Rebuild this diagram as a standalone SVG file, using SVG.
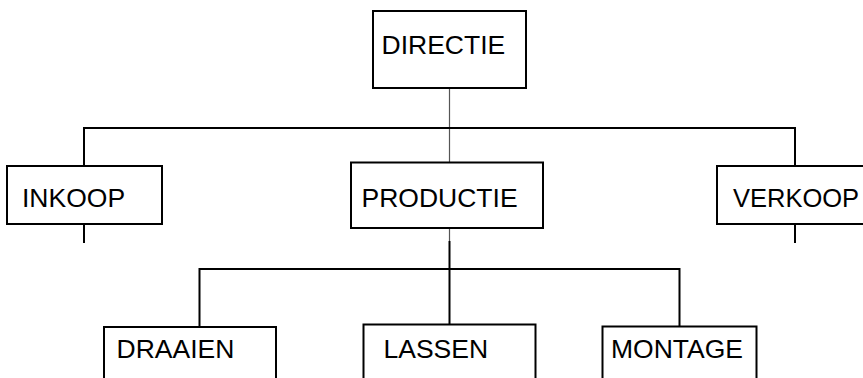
<svg xmlns="http://www.w3.org/2000/svg" width="863" height="378" viewBox="0 0 863 378">
<style>
.box{fill:#fff;stroke:#000;stroke-width:2}
.lbl{font-family:"Liberation Sans",Arial,sans-serif;font-size:26.5px;fill:#000}
.ln{stroke:#000;stroke-width:2;fill:none}
.thin{stroke:#555;stroke-width:1.2;fill:none}
</style>
<rect width="863" height="378" fill="#fff"/>
<g id="connectors">
<line class="thin" x1="449.5" y1="88" x2="449.5" y2="162"/>
<polyline class="ln" points="84,166 84,128 795,128 795,166"/>
<line class="ln" x1="84" y1="224" x2="84" y2="243"/>
<line class="ln" x1="795" y1="224" x2="795" y2="243"/>
<line class="thin" x1="449.5" y1="228" x2="449.5" y2="241"/>
<line class="ln" x1="449.5" y1="241" x2="449.5" y2="325"/>
<polyline class="ln" points="199.5,327 199.5,269 679.5,269 679.5,327"/>
</g>
<g id="directie"><rect class="box" x="373" y="11" width="153" height="77"/><text class="lbl" x="381.5" y="53.5">DIRECTIE</text></g>
<g id="inkoop"><rect class="box" x="7" y="166" width="155" height="58"/><text class="lbl" x="22" y="206.5">INKOOP</text></g>
<g id="productie"><rect class="box" x="351" y="162.5" width="192" height="65.5"/><text class="lbl" x="361.5" y="206.5">PRODUCTIE</text></g>
<g id="verkoop"><rect class="box" x="717" y="166" width="147" height="58"/><text class="lbl" x="733" y="206.5" style="font-size:25.5px">VERKOOP</text></g>
<g id="draaien"><rect class="box" x="104" y="327" width="172" height="70"/><text class="lbl" x="116.5" y="357.5">DRAAIEN</text></g>
<g id="lassen"><rect class="box" x="363.5" y="324.5" width="172" height="70"/><text class="lbl" x="383.5" y="357.5">LASSEN</text></g>
<g id="montage"><rect class="box" x="602.5" y="326.5" width="154" height="70"/><text class="lbl" x="611" y="357.5">MONTAGE</text></g>
</svg>
